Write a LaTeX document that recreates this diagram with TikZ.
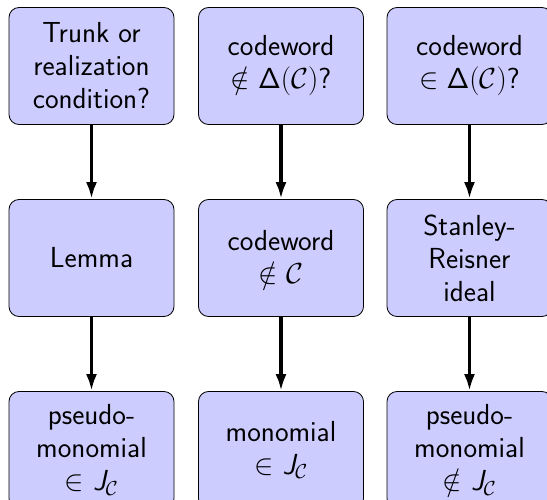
\RequirePackage{fix-cm}
\documentclass[tikz,border=0pt]{standalone}
\usetikzlibrary{arrows.meta}
\newcommand{\Jc}{{\sffamily\itshape J}$_{\mathcal{C}}$}
\begin{document}
\begin{tikzpicture}[x=1pt,y=-1pt,
  box/.style={draw=black, line width=0.8pt, fill=blue!20, rounded corners=10pt,
    minimum width=165pt, minimum height=117pt, align=center, inner sep=0pt,
    font=\sffamily\fontsize{29}{33}\selectfont},
  link/.style={line width=3.5pt, -{Latex[length=17pt,width=11pt]}}]
\useasboundingbox (0,0) rectangle (547,500);
% top row
\node[box] (t1) at (91.5,66) {Trunk or\\realization\\condition?};
\node[box] (t2) at (281,66) {codeword\\$\notin\mathsf{\Delta}(\mathcal{C})$?};
\node[box] (t3) at (469.5,66) {codeword\\$\in\mathsf{\Delta}(\mathcal{C})$?};
% middle row
\node[box] (m1) at (91.5,258) {Lemma};
\node[box] (m2) at (281,258) {codeword\\$\notin$ $\mathcal{C}$};
\node[box] (m3) at (469.5,258) {Stanley-\\Reisner\\ideal};
% bottom row
\node[box] (b1) at (91.5,450) {pseudo-\\monomial\\$\in$ \Jc};
\node[box] (b2) at (281,450) {monomial\\$\in$ \Jc};
\node[box] (b3) at (469.5,450) {pseudo-\\monomial\\$\notin$ \Jc};
% arrows
\foreach \c in {1,2,3}{
  \draw[link] (t\c) -- (m\c);
  \draw[link] (m\c) -- (b\c);
}
\end{tikzpicture}
\end{document}
